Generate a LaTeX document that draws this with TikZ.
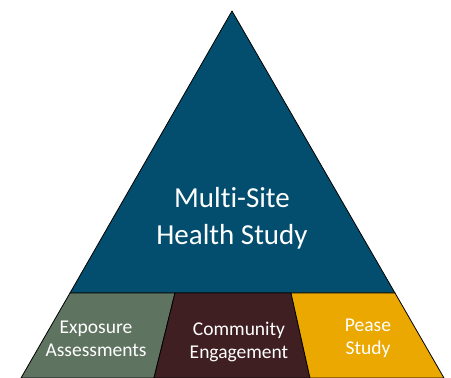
\documentclass[tikz,border=0pt]{standalone}
\usepackage{fontspec}
\setmainfont{Carlito}[Ligatures={NoCommon}]
\definecolor{topblue}{RGB}{3,78,110}
\definecolor{sagegreen}{RGB}{94,115,96}
\definecolor{maroon}{RGB}{64,31,34}
\definecolor{amber}{RGB}{235,168,0}
\tikzset{
  block/.style={draw=black, line width=0.8pt, line join=round},
  bigtext/.style={text=white, font=\fontsize{29}{37}\selectfont, align=center},
  smalltext/.style={text=white, font=\fontsize{19.5}{23}\selectfont, align=center}
}
\begin{document}
\begin{tikzpicture}[x=1pt,y=1pt]
\useasboundingbox (0,0) rectangle (451,378);
\coordinate (apex) at (232,367);
\coordinate (bl) at (70,85);
\coordinate (br) at (395,85);
\coordinate (d1t) at (175,85);
\coordinate (d1b) at (154,0);
\coordinate (d2t) at (291,85);
\coordinate (d2b) at (310,0);
\coordinate (ll) at (21,0);
\coordinate (lr) at (444,0);
\fill[white] (0,0) rectangle (451,378);
\draw[block, fill=topblue] (apex) -- (br) -- (bl) -- cycle;
\draw[block, fill=sagegreen] (bl) -- (d1t) -- (d1b) -- (ll) -- cycle;
\draw[block, fill=maroon] (d1t) -- (d2t) -- (d2b) -- (d1b) -- cycle;
\draw[block, fill=amber] (d2t) -- (br) -- (lr) -- (d2b) -- cycle;
\node[bigtext] (main) at (232,159.5) {Multi-Site\\Health Study};
\node[smalltext] (expo) at (96,39.5) {Exposure\\Assessments};
\node[smalltext] (comm) at (239,36.5) {Community\\Engagement};
\node[smalltext] (pease) at (368,39.5) {Pease\\Study};
\end{tikzpicture}
\end{document}
